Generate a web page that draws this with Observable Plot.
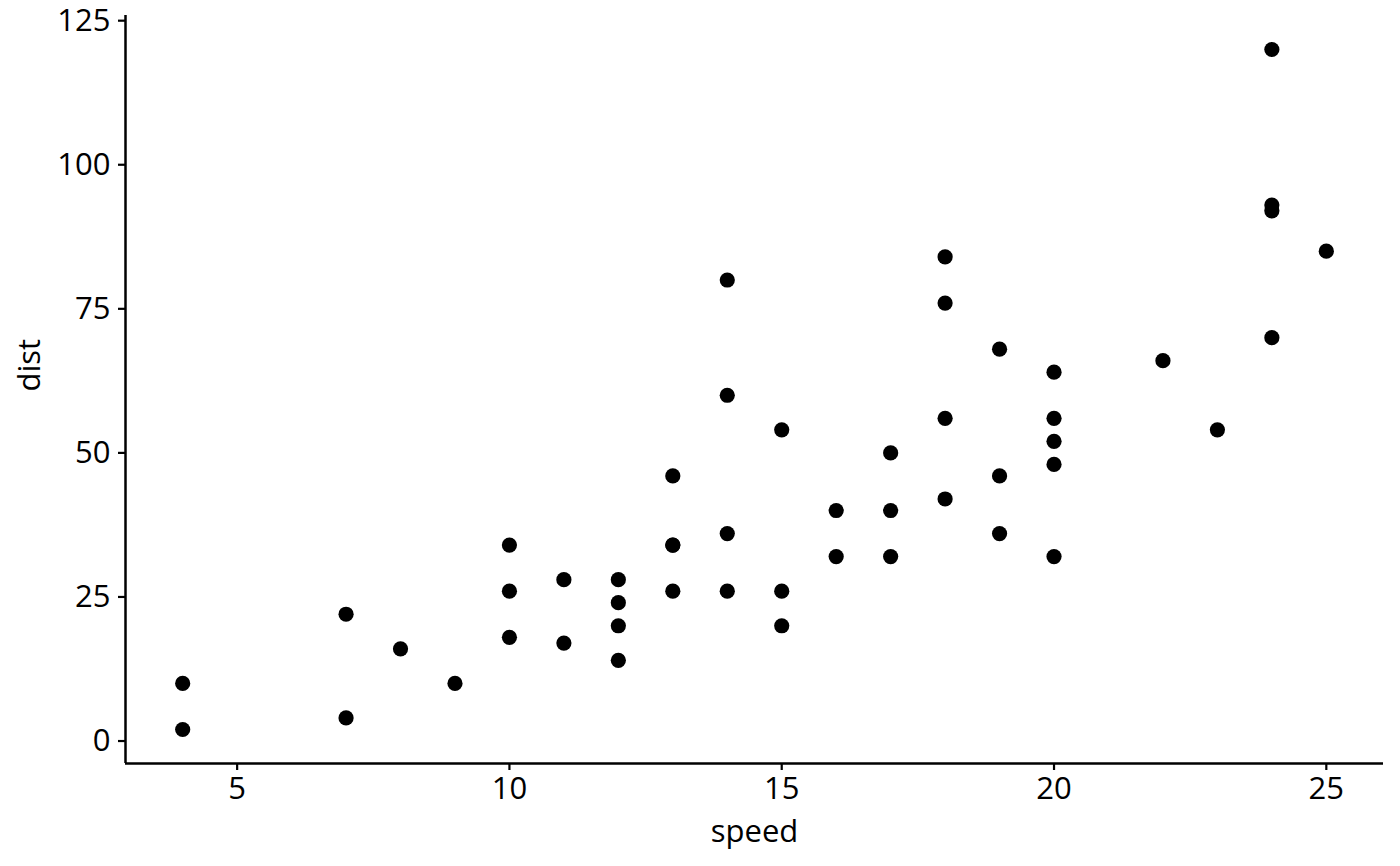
<!DOCTYPE html>
<html>
<head>
<meta charset="utf-8">
<script src="https://cdn.jsdelivr.net/npm/d3@7"></script>
<script src="https://cdn.jsdelivr.net/npm/@observablehq/plot@0.6"></script>
<style>
  html, body { margin: 0; padding: 0; background: #fff; }
</style>
</head>
<body>
<div id="chart"></div>
<script>
const speed = [4,4,7,7,8,9,10,10,10,11,11,12,12,12,12,13,13,13,13,14,14,14,14,15,15,15,16,16,17,17,17,18,18,18,18,19,19,19,20,20,20,20,20,22,23,24,24,24,24,25];
const dist  = [2,10,4,22,16,10,18,26,34,17,28,14,20,24,28,26,34,34,46,26,36,60,80,20,26,54,32,40,32,40,50,42,56,76,84,36,46,68,32,48,52,56,64,66,54,70,92,93,120,85];
const xTicks = [5, 10, 15, 20, 25];
const yTicks = [0, 25, 50, 75, 100, 125];
const xTitle = "speed";
const yTitle = "dist";

const data = speed.map((s, i) => ({speed: s, dist: dist[i]}));

// ggplot-style 5% expansion of data range
function expand(vals) {
  const [lo, hi] = d3.extent(vals);
  const pad = (hi - lo) * 0.05;
  return [lo - pad, hi + pad];
}
const xDomain = expand(speed);
const yDomain = expand(dist);

const fs = 31;
const chart = Plot.plot({
  width: 1400,
  height: 866,
  marginLeft: 125,
  marginRight: 17,
  marginTop: 15,
  marginBottom: 103,
  style: {fontFamily: "'Open Sans', 'Noto Sans', sans-serif", fontSize: fs + "px", background: "#fff", color: "#000"},
  x: {domain: xDomain},
  y: {domain: yDomain},
  marks: [
    Plot.axisX({ticks: xTicks, tickSize: 7, tickPadding: 6, strokeWidth: 2.2, label: null, tickFormat: d => String(d)}),
    Plot.axisY({ticks: yTicks, tickSize: 7, tickPadding: 8, strokeWidth: 2.2, label: null, tickFormat: d => String(d)}),
    Plot.ruleY([yDomain[0]], {stroke: "#000", strokeWidth: 2.5}),
    Plot.ruleX([xDomain[0]], {stroke: "#000", strokeWidth: 2.5}),
    Plot.dot(data, {x: "speed", y: "dist", r: 7.6, fill: "#000", stroke: "none"}),
    Plot.text([xTitle], {frameAnchor: "bottom", dy: 69, text: d => d, lineAnchor: "middle", fill: "#000"}),
    Plot.text([yTitle], {frameAnchor: "left", dx: -95, dy: 2, rotate: -90, text: d => d, lineAnchor: "middle", fill: "#000"})
  ]
});
document.getElementById("chart").appendChild(chart);
</script>
</body>
</html>
